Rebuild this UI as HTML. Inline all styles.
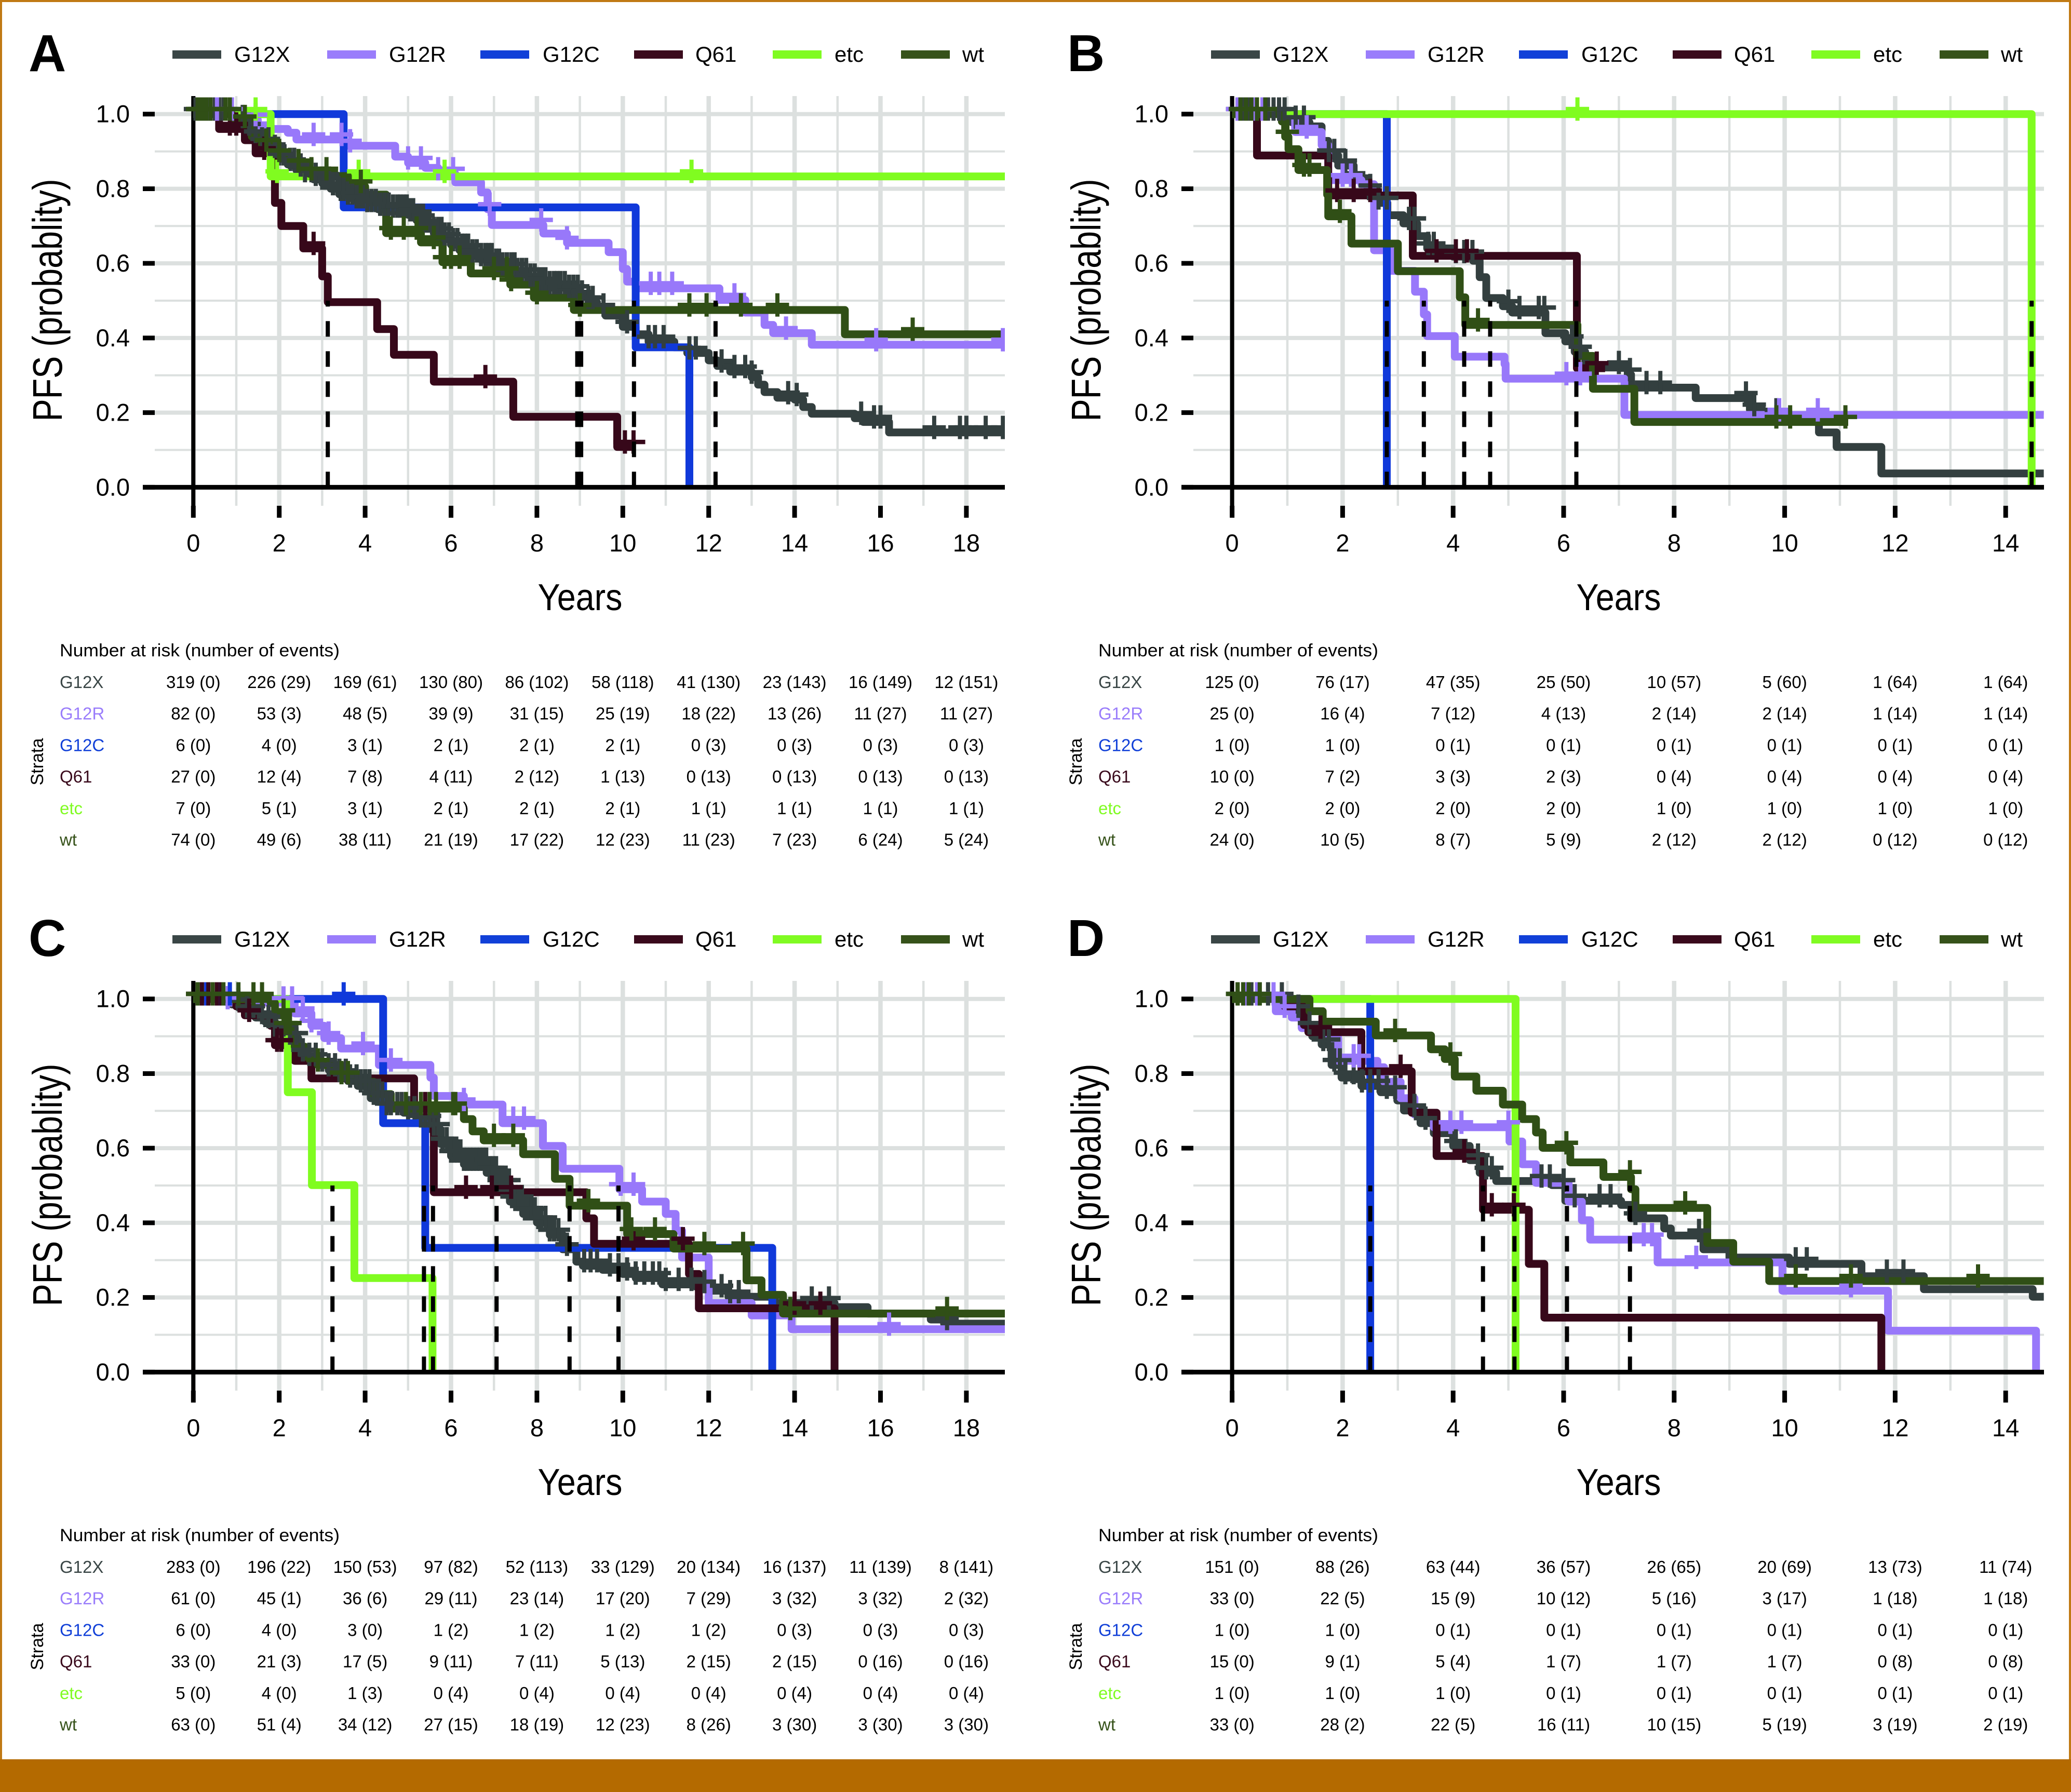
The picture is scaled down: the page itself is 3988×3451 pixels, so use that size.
<!DOCTYPE html>
<html lang="en">
<head>
<meta charset="utf-8">
<title>PFS by KRAS strata</title>
<style>
html,body{margin:0;padding:0;background:#fff;}
body{width:3988px;height:3451px;position:relative;overflow:hidden;font-family:"Liberation Sans",sans-serif;}
#frame-top{position:absolute;left:0;top:0;width:3988px;height:4px;background:#c07a14;}
#frame-left{position:absolute;left:0;top:0;width:4px;height:3388px;background:#c07a14;}
#frame-right{position:absolute;right:0;top:0;width:4px;height:3388px;background:#c07a14;}
#frame-bottom{position:absolute;left:0;top:3388px;width:3988px;height:63px;background:#b46a00;}
svg{position:absolute;left:0;top:0;}
</style>
</head>
<body>
<div id="frame-top"></div>
<div id="frame-left"></div>
<div id="frame-right"></div>
<div id="frame-bottom"></div>
<svg id="fig" width="3988" height="3451" viewBox="0 0 3988 3451"></svg>
<script>
// ---- shared labels ----
const seriesNames = ['G12X','G12R','G12C','Q61','etc','wt'];
const yTicks = [0,0.2,0.4,0.6,0.8,1.0];
const yTickLabels = ['0.0','0.2','0.4','0.6','0.8','1.0'];
const yMinorTicks = [0.1,0.3,0.5,0.7,0.9];
const xTicksLong = [0,2,4,6,8,10,12,14,16,18];
const xMinorLong = [1,3,5,7,9,11,13,15,17];
const xTicksShort = [0,2,4,6,8,10,12,14];
const xMinorShort = [1,3,5,7,9,11,13];

// ---- Panel A ----
const panelA_G12X_t = [0,0.9,1.2,1.4,1.6,1.8,2,2.2,2.4,2.6,2.8,3,3.2,3.4,3.6,3.8,4,4.3,4.6,5,5.2,5.4,5.6,5.8,6,6.2,6.5,6.7,7,7.2,7.5,7.8,8,8.3,8.7,9,9.2,9.4,9.6,10,10.3,10.6,11.2,11.5,12,12.2,12.5,13,13.15,13.3,13.6,14,14.2,14.4,15.4,15.6,16.2,18.9];
const panelA_G12X_s = [1,0.98,0.96,0.94,0.92,0.9,0.88,0.865,0.85,0.835,0.825,0.815,0.8,0.785,0.775,0.765,0.755,0.745,0.74,0.73,0.715,0.7,0.68,0.665,0.65,0.635,0.62,0.61,0.595,0.585,0.57,0.555,0.545,0.535,0.525,0.51,0.495,0.475,0.46,0.43,0.41,0.39,0.375,0.36,0.34,0.325,0.31,0.295,0.275,0.255,0.24,0.235,0.215,0.197,0.185,0.175,0.147,0.147];
const panelA_G12X_c = [0.05,0.1,0.15,0.2,0.25,0.3,0.35,0.4,0.5,0.6,0.7,0.85,1.15,1.3,1.45,1.6,1.75,1.9,2.0,2.1,2.25,2.35,2.5,2.6,2.75,2.85,3.0,3.08,3.16,3.25,3.35,3.43,3.5,3.6,3.7,3.8,3.88,3.95,4.05,4.15,4.25,4.35,4.45,4.55,4.65,4.75,4.82,4.9,4.97,5.05,5.12,5.2,5.27,5.35,5.42,5.5,5.6,5.7,5.78,5.85,5.95,6.05,6.15,6.25,6.32,6.4,6.5,6.6,6.7,6.8,6.88,6.95,7.05,7.12,7.2,7.3,7.4,7.48,7.55,7.65,7.75,7.85,7.95,8.05,8.13,8.2,8.3,8.4,8.47,8.55,8.65,8.75,8.85,8.95,9.05,9.2,9.3,9.55,10.1,10.6,10.75,10.95,11.55,11.7,12.3,12.6,12.85,13.0,13.85,14.05,15.55,15.85,16.0,17.25,17.85,18.0,18.45,18.85];
const panelA_G12R_t = [0,1.1,1.5,1.8,2.2,2.4,3.5,4.7,5.0,5.4,5.7,6.1,6.7,6.85,6.95,8.15,8.7,9.67,10.0,10.1,10.3,12.25,12.85,13.3,13.5,14.4,18.9];
const panelA_G12R_s = [1,0.985,0.97,0.96,0.95,0.932,0.915,0.886,0.869,0.856,0.84,0.817,0.79,0.745,0.703,0.68,0.655,0.63,0.585,0.551,0.533,0.502,0.468,0.435,0.413,0.382,0.382];
const panelA_G12R_c = [0.3,0.55,0.9,1.45,2.8,3.45,3.65,5.0,5.3,5.7,6.05,6.9,8.1,8.7,10.65,10.85,11.15,12.6,13.8,15.9,18.85];
const panelA_G12C_t = [0,3.5,10.3,11.55];
const panelA_G12C_s = [1,0.75,0.375,0];
const panelA_G12C_c = [];
const panelA_Q61_t = [0,0.6,1.2,1.45,1.9,2.05,2.56,3.0,3.13,4.28,4.67,5.6,7.45,9.87,10.3];
const panelA_Q61_s = [1,0.96,0.93,0.895,0.762,0.70,0.64,0.565,0.496,0.424,0.355,0.283,0.189,0.108,0.108];
const panelA_Q61_c = [0.85,1.0,1.65,2.8,6.8,10.05,10.25];
const panelA_etc_t = [0,1.8,18.9];
const panelA_etc_s = [1,0.833,0.833];
const panelA_etc_c = [1.45,1.95,3.85,5.85,11.6];
const panelA_wt_t = [0,0.9,1.36,1.6,2.0,2.3,2.7,3.3,3.6,4.0,4.49,5.3,5.8,6.46,7.38,7.93,8.86,15.17,18.9];
const panelA_wt_s = [1,0.98,0.94,0.917,0.889,0.862,0.84,0.834,0.806,0.784,0.681,0.656,0.603,0.573,0.543,0.508,0.475,0.41,0.41];
const panelA_wt_c = [0.1,0.15,0.2,0.25,0.3,0.4,0.75,0.85,1.2,1.7,2.0,2.45,2.75,3.1,3.9,4.6,4.9,5.2,5.6,5.85,6.0,6.2,7.0,7.3,7.4,8.0,9.0,11.55,11.95,12.75,13.6,16.75];
const panelA_medians = [3.13,8.94,9.03,10.26,12.16];
const panelA_risk_G12X = ['319 (0)','226 (29)','169 (61)','130 (80)','86 (102)','58 (118)','41 (130)','23 (143)','16 (149)','12 (151)'];
const panelA_risk_G12R = ['82 (0)','53 (3)','48 (5)','39 (9)','31 (15)','25 (19)','18 (22)','13 (26)','11 (27)','11 (27)'];
const panelA_risk_G12C = ['6 (0)','4 (0)','3 (1)','2 (1)','2 (1)','2 (1)','0 (3)','0 (3)','0 (3)','0 (3)'];
const panelA_risk_Q61 = ['27 (0)','12 (4)','7 (8)','4 (11)','2 (12)','1 (13)','0 (13)','0 (13)','0 (13)','0 (13)'];
const panelA_risk_etc = ['7 (0)','5 (1)','3 (1)','2 (1)','2 (1)','2 (1)','1 (1)','1 (1)','1 (1)','1 (1)'];
const panelA_risk_wt = ['74 (0)','49 (6)','38 (11)','21 (19)','17 (22)','12 (23)','11 (23)','7 (23)','6 (24)','5 (24)'];

// ---- Panel B ----
const panelB_G12X_t = [0,1.0,1.08,1.4,1.62,1.74,1.92,2.2,2.45,2.63,2.81,3.1,3.35,3.53,4.0,4.36,4.48,4.6,4.9,5.07,5.67,6.03,6.2,6.39,6.62,7.16,7.22,8.39,9.37,9.6,10.62,10.94,11.75,14.69];
const panelB_G12X_s = [1,0.99,0.978,0.967,0.928,0.889,0.862,0.828,0.795,0.762,0.729,0.707,0.673,0.64,0.618,0.607,0.563,0.507,0.485,0.468,0.413,0.391,0.363,0.324,0.321,0.302,0.267,0.239,0.208,0.194,0.147,0.108,0.037,0.037];
const panelB_G12X_c = [0.1,0.2,0.3,0.45,0.55,0.65,0.75,0.85,0.95,1.15,1.3,1.75,1.85,2.05,2.2,2.5,2.65,2.8,3.2,3.3,3.55,3.65,4.05,4.2,4.35,5.0,5.2,5.55,5.65,6.15,6.3,7.0,7.2,7.5,7.75,9.3,9.45,9.85];
const panelB_G12R_t = [0,1.14,1.62,1.74,2.34,2.57,2.87,3.31,3.47,3.53,4.03,4.93,4.95,7.1,14.69];
const panelB_G12R_s = [1,0.952,0.917,0.823,0.812,0.635,0.58,0.524,0.463,0.405,0.35,0.33,0.291,0.194,0.194];
const panelB_G12R_c = [0.1,0.4,0.55,1.35,2.0,2.15,6.05,6.3,10.6,9.9];
const panelB_G12C_t = [0,2.8];
const panelB_G12C_s = [1,0];
const panelB_G12C_c = [];
const panelB_Q61_t = [0,0.45,1.74,3.27,6.24,6.75];
const panelB_Q61_s = [1,0.889,0.782,0.62,0.319,0.319];
const panelB_Q61_c = [1.9,2.2,2.5,3.7,4.05,4.25,6.6];
const panelB_etc_t = [0,14.47];
const panelB_etc_s = [1,0];
const panelB_etc_c = [6.25];
const panelB_wt_t = [0,0.9,0.96,1.02,1.2,1.72,1.74,2.16,3.0,4.12,4.22,6.25,6.53,7.28,11.15];
const panelB_wt_s = [1,0.98,0.939,0.906,0.85,0.784,0.726,0.653,0.579,0.509,0.435,0.352,0.264,0.175,0.175];
const panelB_wt_c = [0.15,0.25,0.35,0.45,0.6,1.0,1.3,1.4,1.95,4.45,9.85,10.1,11.1];
const panelB_medians = [2.8,3.47,4.2,4.67,6.23,14.47];
const panelB_risk_G12X = ['125 (0)','76 (17)','47 (35)','25 (50)','10 (57)','5 (60)','1 (64)','1 (64)'];
const panelB_risk_G12R = ['25 (0)','16 (4)','7 (12)','4 (13)','2 (14)','2 (14)','1 (14)','1 (14)'];
const panelB_risk_G12C = ['1 (0)','1 (0)','0 (1)','0 (1)','0 (1)','0 (1)','0 (1)','0 (1)'];
const panelB_risk_Q61 = ['10 (0)','7 (2)','3 (3)','2 (3)','0 (4)','0 (4)','0 (4)','0 (4)'];
const panelB_risk_etc = ['2 (0)','2 (0)','2 (0)','2 (0)','1 (0)','1 (0)','1 (0)','1 (0)'];
const panelB_risk_wt = ['24 (0)','10 (5)','8 (7)','5 (9)','2 (12)','2 (12)','0 (12)','0 (12)'];

// ---- Panel C ----
const panelC_G12X_t = [0,0.9,1.2,1.45,1.67,1.9,2.13,2.44,2.65,2.9,3.15,3.36,3.6,3.83,4.13,4.44,4.9,5.2,5.52,5.75,6,6.3,6.83,7.06,7.37,7.68,8,8.3,8.6,8.92,9.07,9.53,10,10.3,10.92,11.7,12.08,12.46,13.54,14.93,15.7,17.17,17.48,18.9];
const panelC_G12X_s = [1,0.985,0.967,0.95,0.939,0.917,0.895,0.85,0.838,0.823,0.81,0.795,0.78,0.767,0.734,0.706,0.695,0.673,0.651,0.612,0.579,0.557,0.534,0.501,0.457,0.424,0.401,0.368,0.329,0.296,0.285,0.274,0.263,0.252,0.235,0.229,0.218,0.202,0.185,0.174,0.157,0.141,0.13,0.13];
const panelC_G12X_c = [0.1,0.2,0.45,0.55,0.85,1.05,1.25,1.4,1.6,1.75,1.9,2.1,2.25,2.4,2.55,2.7,2.85,3.0,3.15,3.3,3.4,3.55,3.65,3.8,3.9,4.0,4.1,4.2,4.3,4.4,4.5,4.6,4.75,4.85,5.0,5.15,5.3,5.4,5.5,5.6,5.7,5.8,5.9,6.0,6.08,6.15,6.22,6.3,6.37,6.45,6.52,6.6,6.67,6.75,6.82,6.9,6.97,7.05,7.12,7.2,7.27,7.35,7.42,7.5,7.57,7.65,7.72,7.8,7.87,7.95,8.03,8.1,8.2,8.3,8.4,8.5,8.7,9.1,9.25,9.4,9.7,9.9,10.1,10.3,10.5,10.7,10.85,11.0,11.3,11.6,11.9,12.3,12.5,12.7,14.4,14.8,17.55];
const panelC_G12R_t = [0,0.8,2.1,2.36,2.75,3.05,3.44,4.32,5.52,5.6,6.3,7.2,8.14,8.6,9.92,10.45,11,11.23,11.38,12,13,13.93,18.9];
const panelC_G12R_s = [1,0.99,0.989,0.961,0.928,0.895,0.867,0.823,0.789,0.74,0.717,0.667,0.606,0.545,0.49,0.457,0.424,0.379,0.307,0.185,0.152,0.115,0.115];
const panelC_G12R_c = [0.3,0.8,2.1,2.3,2.55,2.75,3.15,3.95,4.6,6.3,7.45,7.7,9.95,10.25,16.2];
const panelC_G12C_t = [0,4.42,5.4,13.48];
const panelC_G12C_s = [1,0.667,0.333,0];
const panelC_G12C_c = [0.3,0.6,0.85,3.5];
const panelC_Q61_t = [0,1.0,1.2,1.8,1.9,2.36,2.75,5.14,5.6,9.15,9.33,11.54,11.77,14.93];
const panelC_Q61_s = [1,0.98,0.956,0.928,0.876,0.834,0.787,0.706,0.482,0.412,0.344,0.263,0.171,0];
const panelC_Q61_c = [0.1,0.2,0.35,0.55,0.65,1.3,1.95,2.05,5.4,6.35,6.95,7.4,10.25,11.4,14.0,14.6];
const panelC_etc_t = [0,2.2,2.76,3.75,5.57];
const panelC_etc_s = [1,0.75,0.501,0.252,0];
const panelC_etc_c = [];
const panelC_wt_t = [0,1.8,1.9,2.15,2.36,2.6,2.9,3.44,3.83,4.2,4.6,6.3,6.5,6.76,7.68,8.42,8.76,10.1,11.18,12.88,13.23,13.73,18.9];
const panelC_wt_s = [1,0.989,0.956,0.922,0.872,0.845,0.823,0.789,0.778,0.745,0.706,0.678,0.645,0.621,0.584,0.518,0.446,0.37,0.331,0.246,0.207,0.157,0.157];
const panelC_wt_c = [0.1,0.45,0.7,1.05,1.4,1.6,2.1,2.15,2.25,2.9,3.45,3.6,4.95,5.3,5.5,5.65,6.05,6.1,7.0,7.45,9.2,10.2,10.75,11.9,12.8,13.9,17.55];
const panelC_medians = [3.24,5.37,5.58,7.06,8.76,9.9];
const panelC_risk_G12X = ['283 (0)','196 (22)','150 (53)','97 (82)','52 (113)','33 (129)','20 (134)','16 (137)','11 (139)','8 (141)'];
const panelC_risk_G12R = ['61 (0)','45 (1)','36 (6)','29 (11)','23 (14)','17 (20)','7 (29)','3 (32)','3 (32)','2 (32)'];
const panelC_risk_G12C = ['6 (0)','4 (0)','3 (0)','1 (2)','1 (2)','1 (2)','1 (2)','0 (3)','0 (3)','0 (3)'];
const panelC_risk_Q61 = ['33 (0)','21 (3)','17 (5)','9 (11)','7 (11)','5 (13)','2 (15)','2 (15)','0 (16)','0 (16)'];
const panelC_risk_etc = ['5 (0)','4 (0)','1 (3)','0 (4)','0 (4)','0 (4)','0 (4)','0 (4)','0 (4)','0 (4)'];
const panelC_risk_wt = ['63 (0)','51 (4)','34 (12)','27 (15)','18 (19)','12 (23)','8 (26)','3 (30)','3 (30)','3 (30)'];

// ---- Panel D ----
const panelD_G12X_t = [0,0.95,1.08,1.26,1.45,1.62,1.8,1.98,2.34,2.69,2.99,3.11,3.41,3.65,4,4.3,4.48,4.78,5.79,6.03,7.04,7.22,7.82,7.94,8.53,9,10.08,11.39,12.52,14.49,14.69];
const panelD_G12X_s = [1,0.99,0.967,0.922,0.9,0.878,0.823,0.789,0.767,0.75,0.728,0.701,0.667,0.64,0.606,0.568,0.534,0.512,0.501,0.459,0.448,0.412,0.385,0.366,0.329,0.307,0.29,0.257,0.222,0.202,0.202];
const panelD_G12X_c = [0.1,0.25,0.35,0.5,0.65,0.9,1.2,1.4,1.65,1.75,1.85,1.95,2.05,2.2,2.35,2.5,2.65,2.8,2.95,3.3,3.5,4.05,4.45,4.6,4.7,5.6,5.75,6.0,6.2,6.65,6.85,7.3,8.45,10.2,10.4,11.85,12.15];
const panelD_G12R_t = [0,0.79,1.08,1.26,1.74,1.92,2.63,2.75,3.05,3.3,3.65,5.02,5.25,5.5,6.09,6.33,6.48,7.7,9.96,11.87,14.55];
const panelD_G12R_s = [1,0.967,0.95,0.922,0.895,0.834,0.817,0.778,0.734,0.69,0.656,0.618,0.557,0.507,0.457,0.407,0.355,0.294,0.218,0.111,0];
const panelD_G12R_c = [0.25,0.45,0.75,0.95,2.2,2.3,3.95,4.15,5.0,7.45,7.6,8.4,11.2];
const panelD_G12C_t = [0,2.5];
const panelD_G12C_s = [1,0];
const panelD_G12C_c = [];
const panelD_Q61_t = [0,0.95,1.3,1.38,2.34,3.25,3.7,4.54,5.37,5.65,11.75];
const panelD_Q61_s = [1,0.98,0.93,0.911,0.806,0.695,0.579,0.435,0.29,0.146,0];
const panelD_Q61_c = [1.6,3.05,4.2,4.7,5.1];
const panelD_etc_t = [0,5.13];
const panelD_etc_s = [1,0];
const panelD_etc_c = [];
const panelD_wt_t = [0,1.4,1.64,2.6,3.6,3.85,4.03,4.42,4.9,5.25,5.5,5.62,6.12,6.72,7.22,7.3,8.6,9.07,9.72,14.69];
const panelD_wt_s = [1,0.967,0.939,0.902,0.865,0.839,0.792,0.754,0.717,0.678,0.642,0.601,0.562,0.523,0.49,0.44,0.346,0.296,0.244,0.244];
const panelD_wt_c = [0.1,0.2,0.3,0.5,2.95,3.95,6.05,7.2,8.2,10.2,11.2,13.5];
const panelD_medians = [2.5,4.54,5.11,6.06,7.2];
const panelD_risk_G12X = ['151 (0)','88 (26)','63 (44)','36 (57)','26 (65)','20 (69)','13 (73)','11 (74)'];
const panelD_risk_G12R = ['33 (0)','22 (5)','15 (9)','10 (12)','5 (16)','3 (17)','1 (18)','1 (18)'];
const panelD_risk_G12C = ['1 (0)','1 (0)','0 (1)','0 (1)','0 (1)','0 (1)','0 (1)','0 (1)'];
const panelD_risk_Q61 = ['15 (0)','9 (1)','5 (4)','1 (7)','1 (7)','1 (7)','0 (8)','0 (8)'];
const panelD_risk_etc = ['1 (0)','1 (0)','1 (0)','0 (1)','0 (1)','0 (1)','0 (1)','0 (1)'];
const panelD_risk_wt = ['33 (0)','28 (2)','22 (5)','16 (11)','10 (15)','5 (19)','3 (19)','2 (19)'];

const panelCurves = {
  a:[[panelA_G12X_t,panelA_G12X_s,panelA_G12X_c],[panelA_G12R_t,panelA_G12R_s,panelA_G12R_c],[panelA_G12C_t,panelA_G12C_s,panelA_G12C_c],[panelA_Q61_t,panelA_Q61_s,panelA_Q61_c],[panelA_etc_t,panelA_etc_s,panelA_etc_c],[panelA_wt_t,panelA_wt_s,panelA_wt_c]],
  b:[[panelB_G12X_t,panelB_G12X_s,panelB_G12X_c],[panelB_G12R_t,panelB_G12R_s,panelB_G12R_c],[panelB_G12C_t,panelB_G12C_s,panelB_G12C_c],[panelB_Q61_t,panelB_Q61_s,panelB_Q61_c],[panelB_etc_t,panelB_etc_s,panelB_etc_c],[panelB_wt_t,panelB_wt_s,panelB_wt_c]],
  c:[[panelC_G12X_t,panelC_G12X_s,panelC_G12X_c],[panelC_G12R_t,panelC_G12R_s,panelC_G12R_c],[panelC_G12C_t,panelC_G12C_s,panelC_G12C_c],[panelC_Q61_t,panelC_Q61_s,panelC_Q61_c],[panelC_etc_t,panelC_etc_s,panelC_etc_c],[panelC_wt_t,panelC_wt_s,panelC_wt_c]],
  d:[[panelD_G12X_t,panelD_G12X_s,panelD_G12X_c],[panelD_G12R_t,panelD_G12R_s,panelD_G12R_c],[panelD_G12C_t,panelD_G12C_s,panelD_G12C_c],[panelD_Q61_t,panelD_Q61_s,panelD_Q61_c],[panelD_etc_t,panelD_etc_s,panelD_etc_c],[panelD_wt_t,panelD_wt_s,panelD_wt_c]]
};
const panelMedians = {a:panelA_medians,b:panelB_medians,c:panelC_medians,d:panelD_medians};
const panelRisk = {
  a:[panelA_risk_G12X,panelA_risk_G12R,panelA_risk_G12C,panelA_risk_Q61,panelA_risk_etc,panelA_risk_wt],
  b:[panelB_risk_G12X,panelB_risk_G12R,panelB_risk_G12C,panelB_risk_Q61,panelB_risk_etc,panelB_risk_wt],
  c:[panelC_risk_G12X,panelC_risk_G12R,panelC_risk_G12C,panelC_risk_Q61,panelC_risk_etc,panelC_risk_wt],
  d:[panelD_risk_G12X,panelD_risk_G12R,panelD_risk_G12C,panelD_risk_Q61,panelD_risk_etc,panelD_risk_wt]
};

// ---- layout and style (not data) ----
const seriesColors = ['#333f3f','#9878fa','#1039da','#37081a','#80fc20','#304f16'];
const tableColors = ['#3a4646','#9a7dfb','#1140d8','#3a0a1c','#80fb22','#36521a'];
const GRID = '#dce0df';
const NS = 'http://www.w3.org/2000/svg';
const FONT = '"Liberation Sans", sans-serif';
const MARK_SHIFT = 9.7;
const layouts = [
  {id:'a',letter:'A',dx:0,dy:0,x0:372.3,ppy:82.7,right:1935,major:xTicksLong,minor:xMinorLong},
  {id:'b',letter:'B',dx:2000,dy:0,x0:372.6,ppy:106.4,right:1936,major:xTicksShort,minor:xMinorShort},
  {id:'c',letter:'C',dx:0,dy:1704,x0:372.3,ppy:82.7,right:1935,major:xTicksLong,minor:xMinorLong},
  {id:'d',letter:'D',dx:2000,dy:1704,x0:372.6,ppy:106.4,right:1936,major:xTicksShort,minor:xMinorShort}
];
const legendSwatchLeft = [332,630,925,1221,1488,1735];
const legendTextLeft = [451,749,1045,1339,1607,1853];

function mk(parent, tag, attrs){
  const e = document.createElementNS(NS, tag);
  for (const k in attrs) e.setAttribute(k, attrs[k]);
  parent.appendChild(e);
  return e;
}
function survivalAt(ts, ss, t){
  let v = ss[0];
  for (let i = 0; i < ts.length; i++){ if (ts[i] <= t) v = ss[i]; }
  return v;
}

const fig = document.getElementById('fig');

layouts.forEach(function(p){
  const ox = p.dx, oy = p.dy;
  const x = function(t){ return ox + p.x0 + t * p.ppy; };
  const y = function(s){ return oy + 938.4 - s * 718.7; };
  const right = ox + p.right, gridLeft = ox + 298, tickLeft = ox + 275;
  const top = oy + 185, gridBottom = oy + 974, tickBottom = oy + 997;

  const g = mk(fig, 'g', {});
  
  

  const clip = mk(g, 'clipPath', {id:'clip-' + p.id});
  mk(clip, 'rect', {x:gridLeft - 60, y:top, width:right - gridLeft + 60, height:tickBottom - top});

  // panel letter
  const letter = mk(g, 'text', {x:ox + 55, y:oy + 137, 'font-family':FONT, 'font-size':100, 'font-weight':'bold', fill:'#000'});
  letter.textContent = p.letter;
  
  

  // legend
  const legend = mk(g, 'g', {});
  
  
  seriesNames.forEach(function(name, i){
    const sw = mk(legend, 'rect', {x:ox + legendSwatchLeft[i], y:oy + 97, width:94, height:16, fill:tableColors[i]});
    
    
    const lt = mk(legend, 'text', {x:ox + legendTextLeft[i], y:oy + 119, 'font-family':FONT, 'font-size':42, fill:'#000'});
    lt.textContent = name;
    
    
  });

  // grid
  const grid = mk(g, 'g', {});
  
  
  yMinorTicks.forEach(function(v){
    const l = mk(grid, 'line', {x1:gridLeft, x2:right, y1:y(v), y2:y(v), stroke:GRID, 'stroke-width':4});
    
    
  });
  yTicks.forEach(function(v){
    const l = mk(grid, 'line', {x1:gridLeft, x2:right, y1:y(v), y2:y(v), stroke:GRID, 'stroke-width':8});
    
    
  });
  p.minor.forEach(function(v){
    const l = mk(grid, 'line', {x1:x(v), x2:x(v), y1:top, y2:gridBottom, stroke:GRID, 'stroke-width':4.5});
    
    
  });
  p.major.forEach(function(v){
    const l = mk(grid, 'line', {x1:x(v), x2:x(v), y1:top, y2:gridBottom, stroke:GRID, 'stroke-width':8.5});
    
    
  });

  // y axis line
  const yAxis = mk(g, 'line', {x1:x(0), x2:x(0), y1:top, y2:tickBottom, stroke:'#000', 'stroke-width':8});
  
  

  // curves
  const curves = mk(g, 'g', {'clip-path':'url(#clip-' + p.id + ')', fill:'none'});
  
  
  panelCurves[p.id].forEach(function(c, i){
    const ts = c[0], ss = c[1];
    let d = 'M' + x(ts[0]).toFixed(1) + ' ' + y(ss[0]).toFixed(1);
    for (let k = 1; k < ts.length; k++){
      d += 'H' + x(ts[k]).toFixed(1) + 'V' + y(ss[k]).toFixed(1);
    }
    const path = mk(curves, 'path', {d:d, stroke:seriesColors[i], 'stroke-width':15, 'stroke-linejoin':'round', 'stroke-linecap':'butt'});
    
    
  });

  // censor marks (centred slightly above their curve, as in the source figure)
  const marks = mk(g, 'g', {'clip-path':'url(#clip-' + p.id + ')', fill:'none'});
  
  
  panelCurves[p.id].forEach(function(c, i){
    c[2].forEach(function(t){
      const cx = x(t), cy = y(survivalAt(c[0], c[1], t)) - MARK_SHIFT;
      const mH = mk(marks, 'path', {d:'M' + (cx - 22.5).toFixed(1) + ' ' + cy.toFixed(1) + 'h45', stroke:seriesColors[i], 'stroke-width':8.5});
      
      
      const mV = mk(marks, 'path', {d:'M' + cx.toFixed(1) + ' ' + (cy - 22.5).toFixed(1) + 'v45', stroke:seriesColors[i], 'stroke-width':8});
      
      
    });
  });

  // medians
  const medians = mk(g, 'g', {});
  
  
  panelMedians[p.id].forEach(function(t){
    const m = mk(medians, 'path', {d:'M' + x(t).toFixed(1) + ' ' + y(0) + 'V' + y(0.5), stroke:'#000', 'stroke-width':8, 'stroke-dasharray':'30 28', fill:'none'});
    
    
  });

  // x axis line and ticks
  const xAxis = mk(g, 'line', {x1:tickLeft, x2:right, y1:y(0), y2:y(0), stroke:'#000', 'stroke-width':9});
  
  
  yTicks.forEach(function(v, i){
    const tk = mk(g, 'line', {x1:tickLeft, x2:gridLeft, y1:y(v), y2:y(v), stroke:'#000', 'stroke-width':9});
    
    
    const lb = mk(g, 'text', {x:ox + 250, y:y(v) + 16, 'text-anchor':'end', 'font-family':FONT, 'font-size':47, fill:'#000'});
    lb.textContent = yTickLabels[i];
    
    
  });
  p.major.forEach(function(v){
    const tk = mk(g, 'line', {x1:x(v), x2:x(v), y1:gridBottom, y2:tickBottom, stroke:'#000', 'stroke-width':9});
    
    
    const lb = mk(g, 'text', {x:x(v), y:oy + 1062, 'text-anchor':'middle', 'font-family':FONT, 'font-size':47, fill:'#000'});
    lb.textContent = String(v);
    
    
  });

  // axis titles
  const xTitle = mk(g, 'text', {x:ox + 1117, y:oy + 1175, 'text-anchor':'middle', 'font-family':FONT, 'font-size':72, fill:'#000', textLength:163, lengthAdjust:'spacingAndGlyphs'});
  xTitle.textContent = 'Years';
  
  
  const yTitle = mk(g, 'text', {transform:'translate(' + (ox + 119) + ' ' + (oy + 578) + ') rotate(-90)', 'text-anchor':'middle', 'font-family':FONT, 'font-size':80, fill:'#000', textLength:467, lengthAdjust:'spacingAndGlyphs'});
  yTitle.textContent = 'PFS (probablity)';
  
  

  // risk table
  const table = mk(g, 'g', {'font-family':FONT, 'font-size':33});
  
  
  const head = mk(table, 'text', {x:ox + 115, y:oy + 1264, 'font-size':34, fill:'#000', textLength:539, lengthAdjust:'spacingAndGlyphs'});
  head.textContent = 'Number at risk (number of events)';
  
  
  const strata = mk(table, 'text', {transform:'translate(' + (ox + 83) + ' ' + (oy + 1467) + ') rotate(-90)', 'text-anchor':'middle', 'font-size':34, fill:'#000', textLength:91, lengthAdjust:'spacingAndGlyphs'});
  strata.textContent = 'Strata';
  
  
  panelRisk[p.id].forEach(function(row, r){
    const rowY = oy + 1325 + r * 60.7;
    const lab = mk(table, 'text', {x:ox + 115, y:rowY, fill:tableColors[r]});
    lab.textContent = seriesNames[r];
    
    
    row.forEach(function(val, c){
      const cell = mk(table, 'text', {x:x(p.major[c]), y:rowY, 'text-anchor':'middle', fill:'#000'});
      cell.textContent = val;
      
      
    });
  });
});
</script>
</body>
</html>
